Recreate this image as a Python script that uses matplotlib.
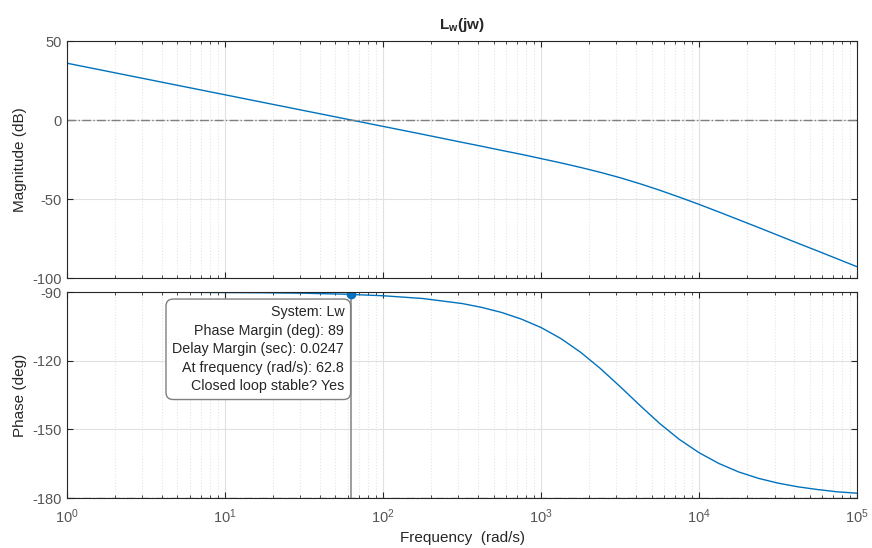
import matplotlib
matplotlib.use("Agg")
import matplotlib.pyplot as plt
import numpy as np
from matplotlib.ticker import LogLocator, NullFormatter

plt.rcParams['font.family'] = ['Liberation Sans', 'DejaVu Sans']
plt.rcParams['mathtext.fontset'] = 'custom'
plt.rcParams['mathtext.rm'] = 'Liberation Sans'
plt.rcParams['mathtext.bf'] = 'Liberation Sans:bold'
plt.rcParams['axes.unicode_minus'] = False

# frequency points (log10 of rad/s)
log_freq = [0, 0.25, 0.5, 0.75, 1, 1.25, 1.5, 1.75, 2, 2.25, 2.5, 2.625, 2.75, 2.875,
            3, 3.125, 3.25, 3.375, 3.5, 3.625, 3.75, 3.875, 4, 4.125, 4.25, 4.375,
            4.5, 4.625, 4.75, 4.875, 5]
mag_db = [36.0, 31.0, 26.0, 21.0, 16.0, 11.0, 6.0, 1.0, -4.0, -9.0, -14.1, -16.6, -19.2, -21.7,
          -24.4, -27.1, -30.0, -33.1, -36.5, -40.3, -44.4, -48.8, -53.4, -58.2, -63.1, -68.0,
          -73.0, -78.0, -82.9, -87.9, -92.9]
phase_deg = [-90.0, -90.0, -90.1, -90.1, -90.2, -90.3, -90.5, -90.9, -91.6, -92.8, -95.0, -96.7, -98.9, -101.8,
             -105.5, -110.3, -116.3, -123.4, -131.3, -139.5, -147.4, -154.4, -160.2, -164.9, -168.6, -171.4,
             -173.5, -175.1, -176.3, -177.3, -177.9]

# phase margin point
pm_freq = 62.8
pm_phase = -91.0
pm_text = ("System: Lw\nPhase Margin (deg): 89\nDelay Margin (sec): 0.0247\n"
           "At frequency (rad/s): 62.8\nClosed loop stable? Yes")

freq = 10.0 ** np.array(log_freq)
line_color = "#0072BD"
tick_gray = "#555555"

fig = plt.figure(figsize=(8.72, 5.48), dpi=100)
ax1 = fig.add_axes([0.0768, 0.4927, 0.9062, 0.4323])
ax2 = fig.add_axes([0.0768, 0.0912, 0.9062, 0.3758])

for ax in (ax1, ax2):
    ax.set_xscale('log')
    ax.set_xlim(1, 1e5)
    ax.xaxis.set_major_locator(LogLocator(base=10, numticks=10))
    ax.xaxis.set_minor_locator(LogLocator(base=10, subs=np.arange(2, 10), numticks=10))
    ax.xaxis.set_minor_formatter(NullFormatter())
    ax.grid(True, which='major', color='#e1e1e1', linewidth=0.8)
    ax.grid(True, which='minor', axis='x', color='#e6e6e6', linestyle=':', linewidth=0.8)
    ax.tick_params(which='both', direction='in', top=True, right=True, colors='#262626',
                   labelcolor=tick_gray, labelsize=10.5)
    ax.tick_params(which='major', length=4)
    ax.tick_params(which='minor', length=2)
    ax.tick_params(axis='x', which='major', pad=7)
    for sp in ax.spines.values():
        sp.set_color('#262626')
        sp.set_linewidth(0.8)
    ax.set_axisbelow(True)

ax1.plot(freq, mag_db, color=line_color, linewidth=1.0)
ax1.axhline(0, color='#7f7f7f', linestyle='-.', linewidth=1.0)
ax1.set_ylim(-100, 50)
ax1.set_yticks([-100, -50, 0, 50])
ax1.tick_params(labelbottom=False)
ax1.set_ylabel("Magnitude (dB)", fontsize=11, color='#262626')
ax1.set_title(r"$\mathbf{L_w(jw)}$", fontsize=11, pad=9, color='#262626')

ax2.plot(freq, phase_deg, color=line_color, linewidth=1.0)
ax2.axhline(-180, color='#7f7f7f', linestyle='-.', linewidth=1.0)
ax2.plot([pm_freq, pm_freq], [-90, -180], color='#8c8c8c', linewidth=1.2)
ax2.plot([pm_freq], [pm_phase], 'o', color=line_color, markersize=6)
ax2.set_ylim(-180, -90)
ax2.set_yticks([-180, -150, -120, -90])
ax2.set_ylabel("Phase (deg)", fontsize=11, color='#262626')
ax2.set_xlabel("Frequency  (rad/s)", fontsize=11, color='#262626', labelpad=3)

ax2.annotate(pm_text, xy=(pm_freq, pm_phase), xytext=(-5, -8), textcoords='offset points',
             ha='right', va='top', multialignment='right', fontsize=10.3, color='#262626',
             linespacing=1.4,
             bbox=dict(boxstyle='round,pad=0.45,rounding_size=0.5', fc='white', ec='#7f7f7f', lw=1.0))

fig.savefig("out.png", dpi=100)
